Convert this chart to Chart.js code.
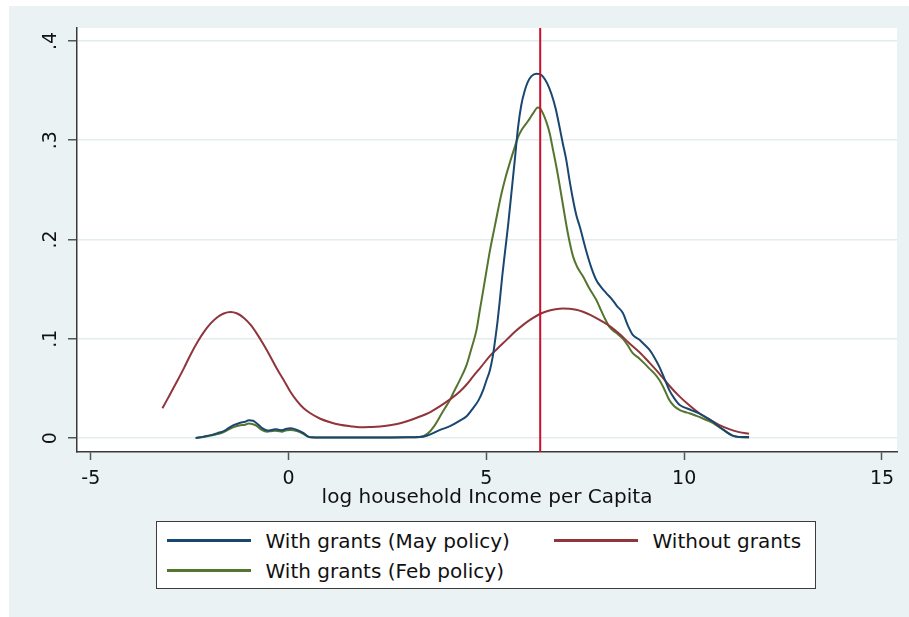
<!DOCTYPE html>
<html>
<head>
<meta charset="utf-8">
<script src="https://cdn.jsdelivr.net/npm/chart.js@4.4.1/dist/chart.umd.min.js"></script>
<style>
html,body{margin:0;padding:0;background:#fff;}
#wrap{position:relative;width:909px;height:617px;overflow:hidden;}
#c{position:absolute;left:0;top:0;display:block;}
#legend{position:absolute;left:156px;top:521px;width:658px;height:66px;border:1.5px solid #3c3c3c;background:#fff;box-sizing:content-box;font-family:"DejaVu Sans",sans-serif;font-size:20px;color:#111;}
.item{position:absolute;display:flex;align-items:center;height:28px;white-space:nowrap;}
.swatch{width:84px;height:2.5px;margin-right:15px;}
</style>
</head>
<body>
<div id="wrap">
<canvas id="c" width="909" height="617"></canvas>
<div id="legend"></div>
</div>
<script>
// ---- data ----
const seriesLabels = ["With grants (May policy)", "Without grants", "With grants (Feb policy)"];
const seriesColors = ["#1a476f", "#90353b", "#55752f"];

const mayX = [-2.35,-2.15,-1.97,-1.8,-1.64,-1.5,-1.39,-1.22,-1.1,-1.01,-0.9,-0.84,-0.75,-0.67,-0.54,-0.45,-0.34,-0.25,-0.17,-0.05,0.05,0.21,0.38,0.5,0.6,1.0,2.0,3.0,3.3,3.49,3.83,4.08,4.33,4.5,4.66,4.8,4.92,5.0,5.09,5.16,5.21,5.28,5.34,5.40,5.46,5.55,5.63,5.72,5.80,5.88,5.97,6.05,6.14,6.26,6.35,6.43,6.54,6.64,6.75,6.85,6.93,7.02,7.10,7.19,7.27,7.36,7.52,7.65,7.78,7.90,8.03,8.19,8.30,8.45,8.58,8.70,8.87,9.0,9.12,9.25,9.37,9.5,9.62,9.75,9.88,10.0,10.13,10.25,10.38,10.55,10.72,10.9,11.05,11.2,11.31,11.45,11.64];
const mayY = [0,0.0015,0.003,0.005,0.007,0.0105,0.013,0.0155,0.0165,0.018,0.0175,0.016,0.013,0.010,0.0077,0.008,0.009,0.0085,0.0078,0.0095,0.0098,0.0083,0.005,0.0015,0.0008,0.0005,0.0005,0.0008,0.001,0.0023,0.0083,0.012,0.0175,0.022,0.030,0.038,0.0486,0.058,0.0687,0.082,0.0956,0.117,0.139,0.163,0.184,0.215,0.246,0.281,0.313,0.335,0.350,0.359,0.3645,0.367,0.3665,0.364,0.357,0.347,0.332,0.313,0.297,0.280,0.260,0.240,0.225,0.213,0.189,0.172,0.159,0.152,0.146,0.139,0.133,0.126,0.113,0.104,0.099,0.094,0.089,0.081,0.072,0.060,0.0486,0.040,0.0335,0.031,0.029,0.027,0.025,0.021,0.0167,0.011,0.0067,0.003,0.0016,0.001,0.001];

const noX = [-3.19,-3.0,-2.81,-2.64,-2.48,-2.3,-2.14,-1.97,-1.81,-1.64,-1.47,-1.3,-1.13,-0.96,-0.80,-0.63,-0.46,-0.3,-0.13,0.04,0.21,0.38,0.55,0.8,1.05,1.3,1.56,1.8,2.05,2.31,2.56,2.82,3.07,3.32,3.57,3.82,4.08,4.33,4.5,4.66,4.87,5.09,5.3,5.51,5.72,5.93,6.14,6.35,6.55,6.75,6.93,7.1,7.27,7.44,7.65,7.86,8.11,8.36,8.6,8.87,9.12,9.37,9.62,9.88,10.13,10.38,10.63,10.88,11.14,11.39,11.64];
const noY = [0.030,0.044,0.058,0.071,0.084,0.097,0.107,0.1155,0.1215,0.1255,0.127,0.1255,0.121,0.114,0.105,0.094,0.082,0.070,0.0587,0.047,0.0375,0.030,0.025,0.0195,0.0160,0.0135,0.012,0.011,0.0112,0.0117,0.013,0.015,0.018,0.0217,0.026,0.032,0.039,0.047,0.054,0.062,0.072,0.0828,0.091,0.0989,0.107,0.114,0.120,0.125,0.128,0.1298,0.1305,0.1302,0.1292,0.1272,0.1235,0.119,0.113,0.105,0.096,0.0865,0.076,0.065,0.053,0.042,0.033,0.025,0.019,0.0134,0.009,0.006,0.0043];

const febX = [-2.35,-2.15,-1.97,-1.8,-1.64,-1.5,-1.39,-1.22,-1.1,-1.01,-0.9,-0.84,-0.75,-0.67,-0.54,-0.45,-0.34,-0.25,-0.17,-0.05,0.05,0.21,0.38,0.5,0.6,1.0,2.0,3.0,3.32,3.53,3.68,3.83,3.95,4.08,4.16,4.33,4.50,4.62,4.75,4.83,4.92,5.0,5.09,5.21,5.38,5.48,5.59,5.70,5.80,5.9,6.01,6.10,6.18,6.30,6.36,6.43,6.52,6.60,6.68,6.77,6.85,6.93,7.06,7.19,7.30,7.44,7.60,7.78,7.86,8.0,8.11,8.28,8.45,8.58,8.70,8.87,9.0,9.12,9.25,9.37,9.5,9.62,9.75,9.88,10.0,10.13,10.30,10.46,10.63,10.80,10.97,11.14,11.25,11.39,11.64];
const febY = [0,0.0012,0.0025,0.004,0.006,0.009,0.011,0.013,0.0135,0.0148,0.014,0.013,0.0105,0.008,0.0065,0.007,0.0075,0.007,0.0065,0.008,0.0082,0.007,0.004,0.0012,0.0006,0.0005,0.0005,0.0008,0.001,0.005,0.012,0.022,0.030,0.0385,0.0453,0.0587,0.0737,0.090,0.109,0.128,0.149,0.168,0.189,0.213,0.246,0.262,0.277,0.291,0.303,0.311,0.317,0.322,0.327,0.333,0.332,0.327,0.318,0.307,0.291,0.273,0.255,0.236,0.206,0.183,0.172,0.163,0.151,0.139,0.132,0.120,0.112,0.106,0.100,0.093,0.0855,0.080,0.075,0.070,0.065,0.0587,0.049,0.0385,0.032,0.0285,0.0265,0.025,0.0225,0.020,0.017,0.0134,0.009,0.0043,0.002,0.001,0.0006];

const xTickValues = [-5, 0, 5, 10, 15];
const yTickValues = [0, 0.1, 0.2, 0.3, 0.4];
const xRange = [-5.35, 15.38];
const yRange = [-0.014, 0.413];
const refLineX = 6.36;
const xTitle = "log household Income per Capita";

// ---- build ----
const toPts = (xs, ys) => xs.map((x, i) => ({x: x, y: ys[i]}));
const seriesData = [toPts(mayX, mayY), toPts(noX, noY), toPts(febX, febY)];

const FONT = '"DejaVu Sans", sans-serif';

const bgPlugin = {
  id: 'bg',
  beforeDraw(chart) {
    const ctx = chart.ctx, a = chart.chartArea;
    ctx.save();
    ctx.fillStyle = '#ffffff';
    ctx.fillRect(0, 0, chart.width, chart.height);
    ctx.fillStyle = '#eaf2f3';
    ctx.fillRect(9, 6, chart.width - 9, chart.height - 6);
    ctx.fillStyle = '#ffffff';
    ctx.fillRect(a.left, a.top, a.right - a.left, a.bottom - a.top);
    ctx.restore();
  }
};

const refLinePlugin = {
  id: 'refLine',
  afterDatasetsDraw(chart) {
    const ctx = chart.ctx, a = chart.chartArea;
    const px = chart.scales.x.getPixelForValue(refLineX);
    ctx.save();
    ctx.strokeStyle = '#c8102e';
    ctx.lineWidth = 2;
    ctx.beginPath();
    ctx.moveTo(px, a.top);
    ctx.lineTo(px, a.bottom);
    ctx.stroke();
    ctx.restore();
  }
};

new Chart(document.getElementById('c'), {
  type: 'line',
  data: {
    datasets: seriesData.map((d, i) => ({
      label: seriesLabels[i],
      data: d,
      borderColor: seriesColors[i],
      backgroundColor: seriesColors[i],
      borderWidth: 2,
      pointRadius: 0,
      fill: false,
      cubicInterpolationMode: 'monotone'
    }))
  },
  options: {
    responsive: false,
    animation: false,
    devicePixelRatio: 1,
    layout: { padding: { left: 0, top: 28, right: 12, bottom: 105 } },
    plugins: { legend: { display: false }, tooltip: { enabled: false } },
    scales: {
      x: {
        type: 'linear',
        min: xRange[0], max: xRange[1],
        afterBuildTicks: s => { s.ticks = xTickValues.map(v => ({value: v})); },
        afterFit: s => { s.height = 60; },
        grid: { drawOnChartArea: false, drawTicks: true, tickLength: 8, tickColor: '#555', tickWidth: 1.5 },
        border: { display: true, color: '#3a3a3a', width: 1.5 },
        ticks: { color: '#111', font: { family: FONT, size: 19 }, padding: 8, maxRotation: 0, callback: v => String(v) },
        title: { display: true, text: xTitle, color: '#111', font: { family: FONT, size: 20 }, padding: { top: 0, bottom: 2.5 } }
      },
      y: {
        type: 'linear',
        min: yRange[0], max: yRange[1],
        afterBuildTicks: s => { s.ticks = yTickValues.map(v => ({value: v})); },
        afterFit: s => { s.width = 77; },
        grid: { color: '#e3ecee', lineWidth: 1.5, drawTicks: true, tickLength: 9, tickColor: '#555', tickWidth: 1.5 },
        border: { display: true, color: '#3a3a3a', width: 1.5 },
        ticks: { color: '#111', font: { family: FONT, size: 19 }, padding: 8, minRotation: 90, maxRotation: 90, crossAlign: 'center',
          callback: v => v === 0 ? '0' : v.toFixed(1).replace(/^0/, '') }
      }
    }
  },
  plugins: [bgPlugin, refLinePlugin]
});

// ---- HTML legend (Stata-style two-column box) ----
const legendOrder = [0, 1, 2];
const colX = [9.5, 396.5];
const rowTop = [4.5, 34.5];
const legend = document.getElementById('legend');
legendOrder.forEach((si, k) => {
  const item = document.createElement('div');
  item.className = 'item';
  item.style.left = colX[k % 2] + 'px';
  item.style.top = rowTop[Math.floor(k / 2)] + 'px';
  const sw = document.createElement('span');
  sw.className = 'swatch';
  sw.style.background = seriesColors[si];
  const tx = document.createElement('span');
  tx.textContent = seriesLabels[si];
  item.appendChild(sw); item.appendChild(tx);
  legend.appendChild(item);
});
</script>
</body>
</html>
